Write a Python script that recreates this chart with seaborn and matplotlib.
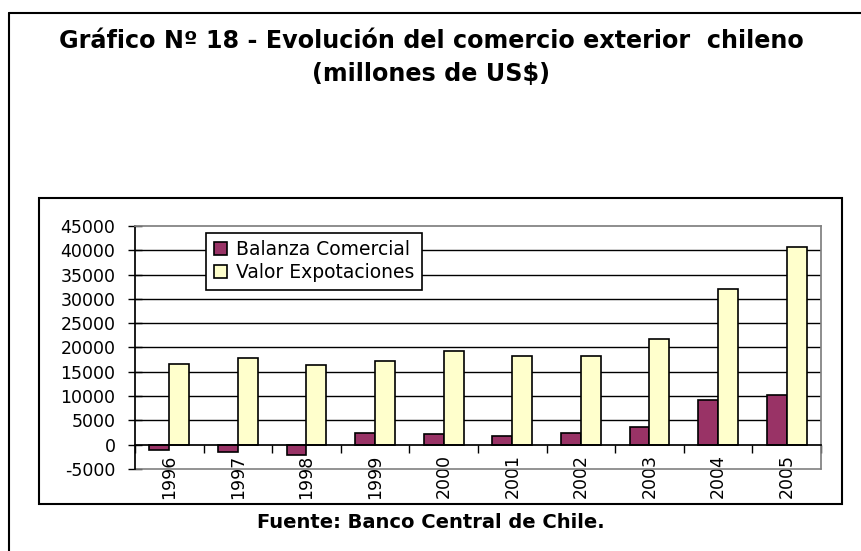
import matplotlib.pyplot as plt
import matplotlib.patches as mpatches
from matplotlib.lines import Line2D
import seaborn as sns
import pandas as pd
import numpy as np

sns.set_theme(style="white")
plt.rcParams['font.family'] = ['DejaVu Sans']
plt.rcParams.update({'text.color': 'black', 'xtick.color': 'black',
                     'ytick.color': 'black', 'axes.labelcolor': 'black',
                     'axes.unicode_minus': False})

years = ["1996", "1997", "1998", "1999", "2000",
         "2001", "2002", "2003", "2004", "2005"]
balanza = [-1100, -1400, -2100, 2400, 2100, 1850, 2400, 3700, 9250, 10250]
exportaciones = [16600, 17900, 16300, 17200, 19250,
                 18150, 18150, 21650, 32100, 40600]
series = ["Balanza Comercial", "Valor Expotaciones"]
colors = ["#993366", "#FFFFCC"]

df = pd.DataFrame({
    "year": years * 2,
    "value": balanza + exportaciones,
    "serie": [series[0]] * len(years) + [series[1]] * len(years),
})

fig = plt.figure(figsize=(8.62, 5.51), dpi=100)

# outer frame (open to the right and bottom) and inner chart box
fig.add_artist(Line2D([9 / 862, 1], [1 - 13 / 551] * 2, color="black", lw=1.5))
fig.add_artist(Line2D([9 / 862] * 2, [0, 1 - 13 / 551], color="black", lw=1.5))
fig.add_artist(mpatches.Rectangle((39 / 862, 1 - 504 / 551), 803 / 862, 306 / 551,
                                  fill=False, edgecolor="black", lw=1.5))

fig.text(0.5, 1 - 41 / 551, "Gráfico Nº 18 - Evolución del comercio exterior  chileno",
         ha="center", va="center", fontsize=17.2, fontweight="bold")
fig.text(0.5, 1 - 74 / 551, "(millones de US$)",
         ha="center", va="center", fontsize=17.2, fontweight="bold")
fig.text(0.5, 1 - 522 / 551, "Fuente: Banco Central de Chile.",
         ha="center", va="center", fontsize=14, fontweight="bold")

ax = fig.add_axes([135 / 862, 1 - 469 / 551, 686 / 862, 243 / 551])
sns.barplot(data=df, x="year", y="value", hue="serie", palette=colors,
            width=0.58, edgecolor="black", linewidth=1.2, ax=ax, saturation=1)

ax.set_ylim(-5000, 45000)
ax.set_xlim(-0.5, len(years) - 0.5)
ax.set_yticks(np.arange(-5000, 45001, 5000))
for yv in range(5000, 40001, 5000):
    ax.axhline(yv, color="black", lw=1, zorder=0)

ax.set_xlabel("")
ax.set_ylabel("")
ax.spines["bottom"].set_position(("data", 0))
ax.spines["bottom"].set_color("black")
ax.spines["left"].set_color("black")
for s in ["top", "right"]:
    ax.spines[s].set_color("#808080")
ax.plot([0, 1], [0, 0], transform=ax.transAxes, color="#808080", lw=1.2,
        clip_on=False)

ax.set_xticks(np.arange(len(years)))
ax.set_xticklabels(years, rotation=90, fontsize=12.5)
ax.set_xticks(np.arange(-0.5, len(years)), minor=True)
ax.tick_params(axis="x", which="major", length=0, pad=7)
ax.tick_params(axis="x", which="minor", length=6, width=1, color="black",
               direction="out", bottom=True)
ax.tick_params(axis="y", labelsize=12.5, length=10, width=1, direction="inout",
               color="black", left=True, pad=9)

leg = ax.legend(loc="upper left", bbox_to_anchor=(0.1035, 0.972),
                borderaxespad=0, frameon=True, fancybox=False,
                edgecolor="black", fontsize=13.5, handlelength=0.7,
                handleheight=0.7, handletextpad=0.5, labelspacing=0.2,
                borderpad=0.4)
leg.get_frame().set_linewidth(1.2)
leg.get_frame().set_alpha(1)

fig.savefig("out.png", dpi=100)
